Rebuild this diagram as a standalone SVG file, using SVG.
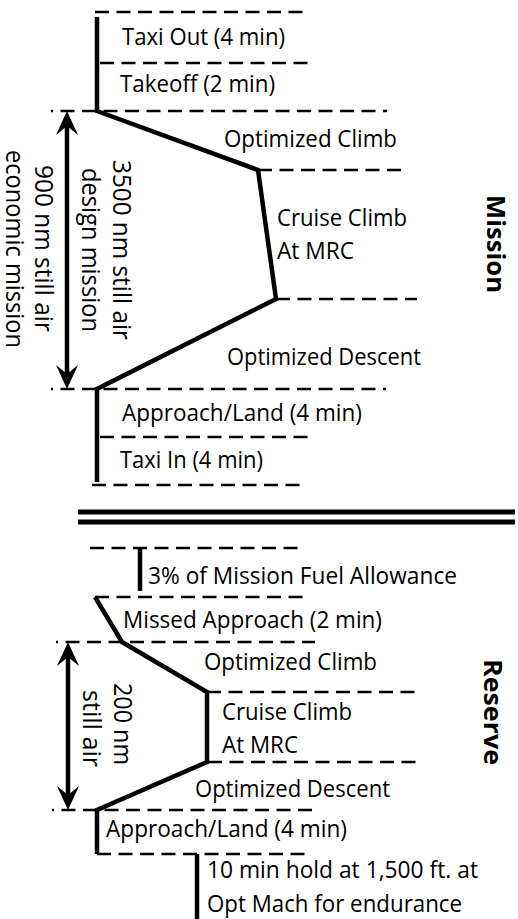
<svg xmlns="http://www.w3.org/2000/svg" xmlns:xlink="http://www.w3.org/1999/xlink" width="518" height="919" viewBox="0 0 518 919">
<style>
  text { font-family: "Open Sans", "Noto Sans", "Liberation Sans", sans-serif; fill: #000; }
  .lbl { font-size: 24px; }
  .rot { font-size: 25.5px; }
  .ttl { font-size: 25px; font-weight: bold; }
  .dash { stroke: #000; stroke-width: 2.4; stroke-dasharray: 14 7.5; fill: none; }
  .dot { stroke-dashoffset: 12; }
  .prof { stroke: #000; stroke-width: 4.5; fill: none; stroke-linejoin: miter; }
  .shaft { stroke: #000; stroke-width: 4.5; }
  .sep { stroke: #000; stroke-width: 5; }
</style>
<defs>
  <path id="ah" d="M0,0 L-11,24 L0,15 L11,24 Z" fill="#000"/>
</defs>
<rect width="518" height="919" fill="#fff"/>

<g id="connectors">
  <!-- mission dashed boundaries -->
  <line class="dash" x1="95" y1="12" x2="310" y2="12"/>
  <line class="dash" x1="100" y1="63" x2="312" y2="63"/>
  <line class="dash dot" x1="51" y1="111" x2="387" y2="111"/>
  <line class="dash" x1="258" y1="170" x2="408" y2="170"/>
  <line class="dash" x1="276" y1="299" x2="417" y2="299"/>
  <line class="dash dot" x1="51" y1="389" x2="386" y2="389"/>
  <line class="dash" x1="100" y1="437" x2="308" y2="437"/>
  <line class="dash" x1="92" y1="485" x2="307" y2="485"/>
  <!-- mission profile -->
  <path class="prof" d="M97,17 L97,111 L258,170 L276,299 L97,389 L97,482"/>
  <!-- mission range arrow -->
  <line class="shaft" x1="67" y1="124" x2="67" y2="376"/>
  <use xlink:href="#ah" href="#ah" transform="translate(67,111)"/>
  <use xlink:href="#ah" href="#ah" transform="translate(67,389) rotate(180)"/>
  <!-- separator -->
  <line class="sep" x1="78" y1="512" x2="515" y2="512"/>
  <line class="sep" x1="78" y1="522" x2="515" y2="522"/>
  <!-- reserve dashed boundaries -->
  <line class="dash" x1="90" y1="548" x2="305" y2="548"/>
  <line class="dash" x1="95" y1="597" x2="307" y2="597"/>
  <line class="dash dot" x1="56" y1="642" x2="315" y2="642"/>
  <line class="dash" x1="207" y1="692" x2="420" y2="692"/>
  <line class="dash" x1="208" y1="762" x2="418" y2="762"/>
  <line class="dash dot" x1="52" y1="810" x2="312" y2="810"/>
  <line class="dash" x1="97" y1="854" x2="308" y2="854"/>
  <!-- reserve profile -->
  <line class="prof" x1="140" y1="548" x2="140" y2="591"/>
  <path class="prof" d="M95,597 L122,642 L207,692 L207,762 L97,810 L97,854"/>
  <line class="prof" x1="197" y1="854" x2="197" y2="919"/>
  <!-- reserve range arrow -->
  <line class="shaft" x1="68" y1="655" x2="68" y2="797"/>
  <use xlink:href="#ah" href="#ah" transform="translate(68,642)"/>
  <use xlink:href="#ah" href="#ah" transform="translate(68,810) rotate(180)"/>
</g>

<g id="taxi-out"><text class="lbl" x="122" y="45" textLength="163" lengthAdjust="spacingAndGlyphs">Taxi Out (4 min)</text></g>
<g id="takeoff"><text class="lbl" x="120" y="92" textLength="155" lengthAdjust="spacingAndGlyphs">Takeoff (2 min)</text></g>
<g id="climb"><text class="lbl" x="224" y="147" textLength="173" lengthAdjust="spacingAndGlyphs">Optimized Climb</text></g>
<g id="cruise">
  <text class="lbl" x="277" y="226" textLength="130" lengthAdjust="spacingAndGlyphs">Cruise Climb</text>
  <text class="lbl" x="277" y="259" textLength="77" lengthAdjust="spacingAndGlyphs">At MRC</text>
</g>
<g id="descent"><text class="lbl" x="227" y="365" textLength="194" lengthAdjust="spacingAndGlyphs">Optimized Descent</text></g>
<g id="approach"><text class="lbl" x="122" y="421" textLength="240" lengthAdjust="spacingAndGlyphs">Approach/Land (4 min)</text></g>
<g id="taxi-in"><text class="lbl" x="120" y="468" textLength="143" lengthAdjust="spacingAndGlyphs">Taxi In (4 min)</text></g>

<g id="mission-range">
  <text class="rot" transform="translate(113,160) rotate(90)" textLength="180" lengthAdjust="spacingAndGlyphs">3500 nm still air</text>
  <text class="rot" transform="translate(82,168) rotate(90)" textLength="164" lengthAdjust="spacingAndGlyphs">design mission</text>
  <text class="rot" transform="translate(35,165) rotate(90)" textLength="167" lengthAdjust="spacingAndGlyphs">900 nm still air</text>
  <text class="rot" transform="translate(6,150) rotate(90)" textLength="198" lengthAdjust="spacingAndGlyphs">economic mission</text>
</g>
<g id="mission-title"><text class="ttl" transform="translate(487,195) rotate(90)" textLength="98" lengthAdjust="spacingAndGlyphs">Mission</text></g>

<g id="fuel-allowance"><text class="lbl" x="148" y="584" textLength="309" lengthAdjust="spacingAndGlyphs">3% of Mission Fuel Allowance</text></g>
<g id="missed-approach"><text class="lbl" x="123" y="628" textLength="259" lengthAdjust="spacingAndGlyphs">Missed Approach (2 min)</text></g>
<g id="reserve-climb"><text class="lbl" x="204" y="670" textLength="173" lengthAdjust="spacingAndGlyphs">Optimized Climb</text></g>
<g id="reserve-cruise">
  <text class="lbl" x="222" y="720" textLength="130" lengthAdjust="spacingAndGlyphs">Cruise Climb</text>
  <text class="lbl" x="222" y="753" textLength="76" lengthAdjust="spacingAndGlyphs">At MRC</text>
</g>
<g id="reserve-descent"><text class="lbl" x="195" y="797" textLength="195" lengthAdjust="spacingAndGlyphs">Optimized Descent</text></g>
<g id="reserve-approach"><text class="lbl" x="106" y="837" textLength="241" lengthAdjust="spacingAndGlyphs">Approach/Land (4 min)</text></g>
<g id="hold">
  <text class="lbl" x="207" y="878" textLength="271" lengthAdjust="spacingAndGlyphs">10 min hold at 1,500 ft. at</text>
  <text class="lbl" x="207" y="912" textLength="255" lengthAdjust="spacingAndGlyphs">Opt Mach for endurance</text>
</g>
<g id="reserve-range">
  <text class="rot" transform="translate(114,683) rotate(90)" textLength="82" lengthAdjust="spacingAndGlyphs">200 nm</text>
  <text class="rot" transform="translate(83,690) rotate(90)" textLength="77" lengthAdjust="spacingAndGlyphs">still air</text>
</g>
<g id="reserve-title"><text class="ttl" transform="translate(484,659) rotate(90)" textLength="106" lengthAdjust="spacingAndGlyphs">Reserve</text></g>
</svg>
